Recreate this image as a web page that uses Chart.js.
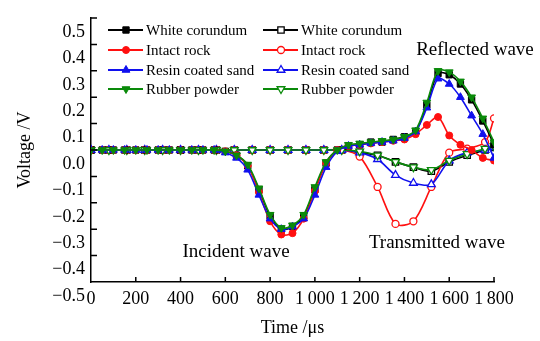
<!DOCTYPE html>
<html>
<head>
<meta charset="utf-8">
<script src="https://cdn.jsdelivr.net/npm/chart.js@4/dist/chart.umd.min.js"></script>
<style>
  html, body { margin: 0; padding: 0; background: #fff; }
  #wrap { width: 540px; height: 341px; }
</style>
</head>
<body>
<div id="wrap"><canvas id="waveChart" width="540" height="341"></canvas></div>
<script>
// time axis samples (us)
const tFilled = [0, 50, 100, 150, 200, 250, 300, 350, 400, 450, 500, 550, 600, 650, 700, 750, 800, 850, 900,
  950, 1000, 1050, 1100, 1150, 1200, 1250, 1300, 1350, 1400, 1450, 1500, 1550, 1600, 1650, 1700, 1750, 1800];
const tOpen = [0, 80, 160, 240, 320, 400, 480, 560, 640, 720, 800, 880, 960, 1040, 1120,
  1200, 1280, 1360, 1440, 1520, 1600, 1680, 1760, 1800];

// incident + reflected (filled markers)
const whiteFilled = [0, 0, 0, 0, 0, 0, 0, 0, 0, 0, 0, 0,
  -0.005, -0.02, -0.06, -0.15, -0.25, -0.30, -0.29, -0.25, -0.15, -0.05, 0.0, 0.015, 0.02,
  0.03, 0.03, 0.04, 0.05, 0.07, 0.17, 0.29, 0.285, 0.25, 0.19, 0.11, 0.02];
const rockFilled = [0, 0, 0, 0, 0, 0, 0, 0, 0, 0, 0, 0,
  -0.005, -0.02, -0.06, -0.16, -0.27, -0.32, -0.315, -0.26, -0.155, -0.05, 0.0, 0.015, 0.02,
  0.025, 0.03, 0.035, 0.04, 0.06, 0.095, 0.125, 0.055, 0.02, 0.0, -0.03, -0.04];
const resinFilled = [0, 0, 0, 0, 0, 0, 0, 0, 0, 0, 0, 0,
  -0.01, -0.03, -0.075, -0.17, -0.26, -0.30, -0.29, -0.26, -0.17, -0.065, -0.005, 0.015, 0.02,
  0.025, 0.03, 0.035, 0.045, 0.07, 0.16, 0.27, 0.25, 0.20, 0.13, 0.06, -0.03];
const rubberFilled = [0, 0, 0, 0, 0, 0, 0, 0, 0, 0, 0, 0,
  -0.005, -0.02, -0.055, -0.145, -0.245, -0.295, -0.285, -0.245, -0.14, -0.045, 0.0, 0.02, 0.025,
  0.03, 0.035, 0.04, 0.05, 0.075, 0.18, 0.30, 0.295, 0.26, 0.20, 0.12, 0.03];

// transmitted (open markers)
const whiteOpen = [0, 0, 0, 0, 0, 0, 0, 0, 0, 0, 0, 0, 0, 0, 0,
  -0.01, -0.02, -0.045, -0.065, -0.08, -0.045, -0.02, 0.0, 0.01];
const rockOpen = [0, 0, 0, 0, 0, 0, 0, 0, 0, 0, 0, 0, 0, 0, 0,
  -0.025, -0.14, -0.28, -0.27, -0.14, -0.01, 0.005, 0.03, 0.12];
const resinOpen = [0, 0, 0, 0, 0, 0, 0, 0, 0, 0, 0, 0, 0, 0, 0,
  -0.01, -0.035, -0.095, -0.125, -0.13, -0.04, -0.01, 0.0, 0.01];
const rubberOpen = [0, 0, 0, 0, 0, 0, 0, 0, 0, 0, 0, 0, 0, 0, 0,
  -0.005, -0.02, -0.045, -0.065, -0.075, -0.04, -0.015, 0.005, 0.015];

const xTicks = [0, 200, 400, 600, 800, 1000, 1200, 1400, 1600, 1800];
const yTicks = [0.5, 0.4, 0.3, 0.2, 0.1, 0.0, -0.1, -0.2, -0.3, -0.4];

const notes = [
  { text: "Reflected wave", t: 1715, v: 0.38 },
  { text: "Incident wave", t: 648, v: -0.385 },
  { text: "Transmitted wave", t: 1545, v: -0.352 }
];

const BLACK = "#000000", RED = "#ff1010", BLUE = "#1010ee", GREEN = "#0a8a0a";

function pts(ts, vs) { return ts.map((t, i) => ({ x: t, y: vs[i] })); }

function series(label, ts, vs, color, style, rot, open, order) {
  return {
    label: label,
    data: pts(ts, vs),
    borderColor: color,
    backgroundColor: open ? "#ffffff" : color,
    borderWidth: 1.6,
    pointStyle: style,
    rotation: rot,
    pointRadius: style === "rect" ? 4.5 : (style === "circle" ? 3.5 : 4.5),
    pointBorderWidth: open ? 1.3 : 1,
    pointBorderColor: color,
    pointBackgroundColor: open ? "#ffffff" : color,
    tension: 0.3,
    order: order,
    open: open
  };
}

const datasets = [
  series("White corundum", tFilled, whiteFilled, BLACK, "rect", 0, false, 3),
  series("White corundum", tOpen, whiteOpen, BLACK, "rect", 0, true, 7),
  series("Intact rock", tFilled, rockFilled, RED, "circle", 0, false, 2),
  series("Intact rock", tOpen, rockOpen, RED, "circle", 0, true, 6),
  series("Resin coated sand", tFilled, resinFilled, BLUE, "triangle", 0, false, 1),
  series("Resin coated sand", tOpen, resinOpen, BLUE, "triangle", 0, true, 5),
  series("Rubber powder", tFilled, rubberFilled, GREEN, "triangle", 180, false, 0),
  series("Rubber powder", tOpen, rubberOpen, GREEN, "triangle", 180, true, 4)
];

Chart.defaults.font.family = "'Liberation Serif', 'Times New Roman', serif";
Chart.defaults.color = "#000";

function marker(ctx, ds, x, y) {
  ctx.fillStyle = ds.pointBackgroundColor;
  ctx.strokeStyle = ds.pointBorderColor;
  ctx.lineWidth = ds.pointBorderWidth;
  Chart.helpers.drawPoint(ctx, {
    pointStyle: ds.pointStyle, rotation: ds.rotation,
    radius: ds.pointRadius, borderWidth: ds.pointBorderWidth
  }, x, y);
}

const extras = {
  id: "extras",
  afterDraw(chart) {
    const { ctx, scales: { x, y } } = chart;
    ctx.save();
    // inner tick marks
    ctx.strokeStyle = "#000";
    ctx.lineWidth = 1.5;
    ctx.beginPath();
    yTicks.forEach(v => {
      const py = y.getPixelForValue(v);
      ctx.moveTo(x.left, py); ctx.lineTo(x.left + 6, py);
    });
    xTicks.slice(1).forEach(v => {
      const px = x.getPixelForValue(v);
      ctx.moveTo(px, y.bottom); ctx.lineTo(px, y.bottom - 5);
    });
    ctx.stroke();

    // two column legend
    const cols = [108, 263], rows = [30, 50, 70, 89];
    ctx.font = "15px 'Liberation Serif'";
    ctx.textBaseline = "middle";
    ctx.textAlign = "left";
    datasets.forEach((ds, i) => {
      const cx = cols[i % 2], cy = rows[Math.floor(i / 2)];
      ctx.strokeStyle = ds.borderColor;
      ctx.lineWidth = 2;
      ctx.beginPath(); ctx.moveTo(cx, cy); ctx.lineTo(cx + 35, cy); ctx.stroke();
      marker(ctx, ds, cx + 18, cy);
      ctx.fillStyle = "#000";
      ctx.fillText(ds.label, cx + 38, cy + 1);
    });

    // wave annotations
    ctx.font = "19px 'Liberation Serif'";
    ctx.textAlign = "center";
    ctx.fillStyle = "#000";
    notes.forEach(n => ctx.fillText(n.text, x.getPixelForValue(n.t), y.getPixelForValue(n.v)));
    ctx.restore();
  }
};

new Chart(document.getElementById("waveChart").getContext("2d"), {
  type: "line",
  data: { datasets: datasets },
  options: {
    responsive: false,
    animation: false,
    layout: { padding: { top: 18, right: 46, left: 0, bottom: 0 } },
    plugins: { legend: { display: false }, tooltip: { enabled: false } },
    scales: {
      x: {
        type: "linear", min: 0, max: 1800,
        afterBuildTicks: s => { s.ticks = xTicks.map(v => ({ value: v })); },
        afterFit: s => { s.height = 59; },
        grid: { display: false, drawTicks: false },
        border: { color: "#000", width: 1.5 },
        ticks: {
          padding: 6, font: { size: 18 }, maxRotation: 0,
          callback: v => v >= 1000 ? "1\u2009" + String(v).slice(1) : String(v)
        },
        title: { display: true, text: "Time /\u03bcs", font: { size: 18 }, padding: { top: 0, bottom: 2 } }
      },
      y: {
        type: "linear", min: -0.5, max: 0.5,
        afterBuildTicks: s => { s.ticks = yTicks.concat([-0.5]).map(v => ({ value: v })); },
        afterFit: s => { s.width = 91; },
        grid: { display: false, drawTicks: false },
        border: { color: "#000", width: 1.5 },
        ticks: {
          padding: 6, font: { size: 18 }, labelOffset: 14,
          callback: v => Math.abs(v) < 1e-9 ? "0.0" : Number(v).toFixed(1).replace("-", "\u2212")
        },
        title: { display: true, text: "Voltage /V", font: { size: 18 }, padding: { top: 14, bottom: 0 } }
      }
    }
  },
  plugins: [extras]
});
</script>
</body>
</html>
